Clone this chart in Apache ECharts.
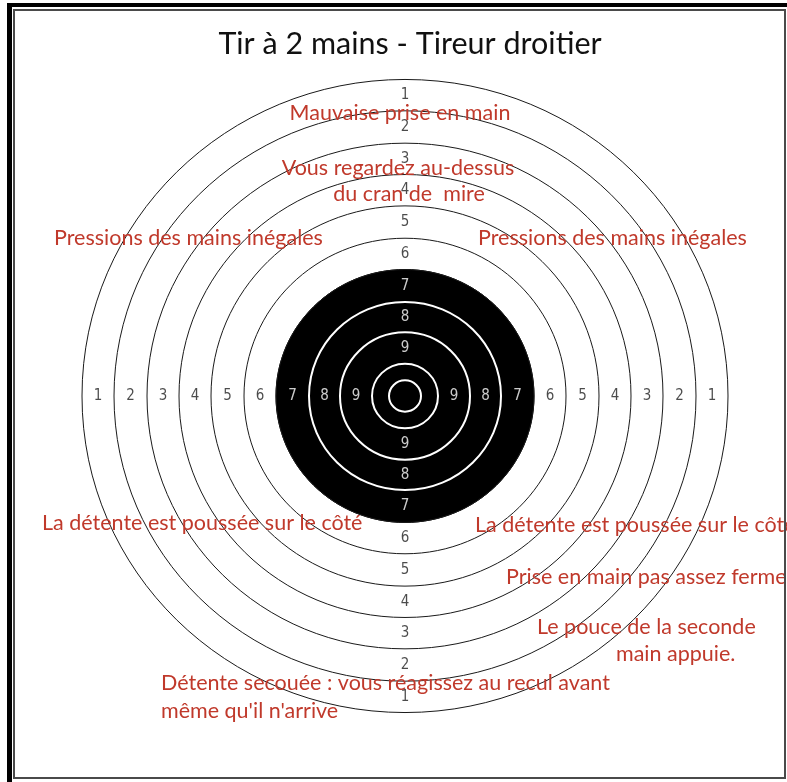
<!DOCTYPE html>
<html>
<head>
<meta charset="utf-8">
<title>Tir à 2 mains - Tireur droitier</title>
<script src="https://cdn.jsdelivr.net/npm/echarts@6/dist/echarts.min.js"></script>
<style>
html, body { margin: 0; padding: 0; background: #fff; }
#chart { width: 787px; height: 782px; }
</style>
</head>
<body>
<div id="chart"></div>
<script>
const titleText = 'Tir à 2 mains - Tireur droitier'

// scoring zones and the outer radius of each one (target units)
const scores = [1, 2, 3, 4, 5, 6, 7, 8, 9, 10]
const zoneRadius = [323, 291, 258, 226, 194, 161, 129, 96, 65, 33]
const innerTenRadius = 16
const firstBlackScore = 7

// red advice notes around the target
const adviceTexts = [
  'Mauvaise prise en main',
  'Vous regardez au-dessus',
  'du cran de  mire',
  'Pressions des mains inégales',
  'Pressions des mains inégales',
  'La détente est poussée sur le côté',
  'La détente est poussée sur le côté',
  'Prise en main pas assez ferme',
  'Le pouce de la seconde',
  'main appuie.',
  'Détente secouée : vous réagissez au recul avant',
  'même qu\'il n\'arrive'
]
// where each note sits: [x, y, align]
const adviceLayout = [
  [400, 113, 'center'],
  [398, 168, 'center'],
  [409, 194, 'center'],
  [54, 238, 'left'],
  [478, 238, 'left'],
  [42, 523, 'left'],
  [475, 525, 'left'],
  [506, 577, 'left'],
  [537, 627, 'left'],
  [616, 654, 'left'],
  [161, 683, 'left'],
  [161, 711, 'left']
]

const ringData = scores.map((s, i) => [zoneRadius[i], s])
ringData.push([innerTenRadius, 11])

const labelData = []
scores.slice(0, 9).forEach((s, i) => {
  const mid = (zoneRadius[i] + zoneRadius[i + 1]) / 2
  const color = s >= firstBlackScore ? '#fff' : '#1e1e1e'
  ;[[-mid, 0], [mid, 0], [0, mid], [0, -mid]].forEach(p => {
    labelData.push({ value: [p[0], p[1], s], label: { color: color } })
  })
})

const chart = echarts.init(document.getElementById('chart'))

const ellipse = (api, r, style) => {
  const c = api.coord([0, 0])
  const s = api.size([r, r])
  return {
    type: 'ellipse',
    shape: { cx: c[0], cy: c[1], rx: s[0], ry: s[1] },
    style: style
  }
}

const frame = [
  { type: 'rect', shape: { x: 7, y: 3, width: 780, height: 4 }, style: { fill: '#000' }, z: 10 },
  { type: 'rect', shape: { x: 7, y: 3, width: 5, height: 779 }, style: { fill: '#000' }, z: 10 },
  { type: 'rect', shape: { x: 14, y: 10, width: 771, height: 768 }, style: { fill: 'none', stroke: '#4a4a4a', lineWidth: 2 }, z: 10 }
]

const notes = adviceTexts.map((t, i) => ({
  type: 'text',
  x: adviceLayout[i][0],
  y: adviceLayout[i][1],
  z: 5,
  style: {
    text: t,
    fill: '#c0392b',
    fontSize: 21.5,
    fontFamily: 'Lato',
    textAlign: adviceLayout[i][2],
    textVerticalAlign: 'middle'
  }
}))

const option = {
  animation: false,
  backgroundColor: '#fff',
  title: {
    text: titleText,
    left: 405,
    textAlign: 'center',
    top: 24,
    textStyle: { fontFamily: 'Lato', fontSize: 30.5, fontWeight: 'normal', color: '#111' }
  },
  // 1 unit = 1px across, 0.98px down, centre at (405, 396)
  grid: { left: 25, width: 760, top: 13.8, height: 764.4, outerBoundsMode: 'none', containLabel: false },
  xAxis: { type: 'value', min: -380, max: 380, show: false },
  yAxis: { type: 'value', min: -390, max: 390, show: false },
  graphic: frame.concat(notes),
  series: [
    {
      type: 'custom',
      data: [[zoneRadius[scores.indexOf(firstBlackScore)], firstBlackScore]],
      renderItem: (params, api) => ellipse(api, api.value(0), { fill: '#000', stroke: '#000', lineWidth: 1 }),
      z: 1
    },
    {
      type: 'custom',
      data: ringData,
      renderItem: (params, api) => {
        const onBlack = api.value(1) > firstBlackScore
        return ellipse(api, api.value(0), {
          fill: 'none',
          stroke: onBlack ? '#fff' : '#1a1a1a',
          lineWidth: onBlack ? 2 : 1
        })
      },
      z: 2
    },
    {
      type: 'scatter',
      data: labelData,
      symbolSize: 0,
      z: 3,
      label: {
        show: true,
        position: 'inside',
        formatter: p => p.value[2],
        fontSize: 15,
        fontFamily: "'Liberation Sans Narrow', 'DejaVu Sans Condensed', sans-serif"
      }
    }
  ]
}

chart.setOption(option)
</script>
</body>
</html>
